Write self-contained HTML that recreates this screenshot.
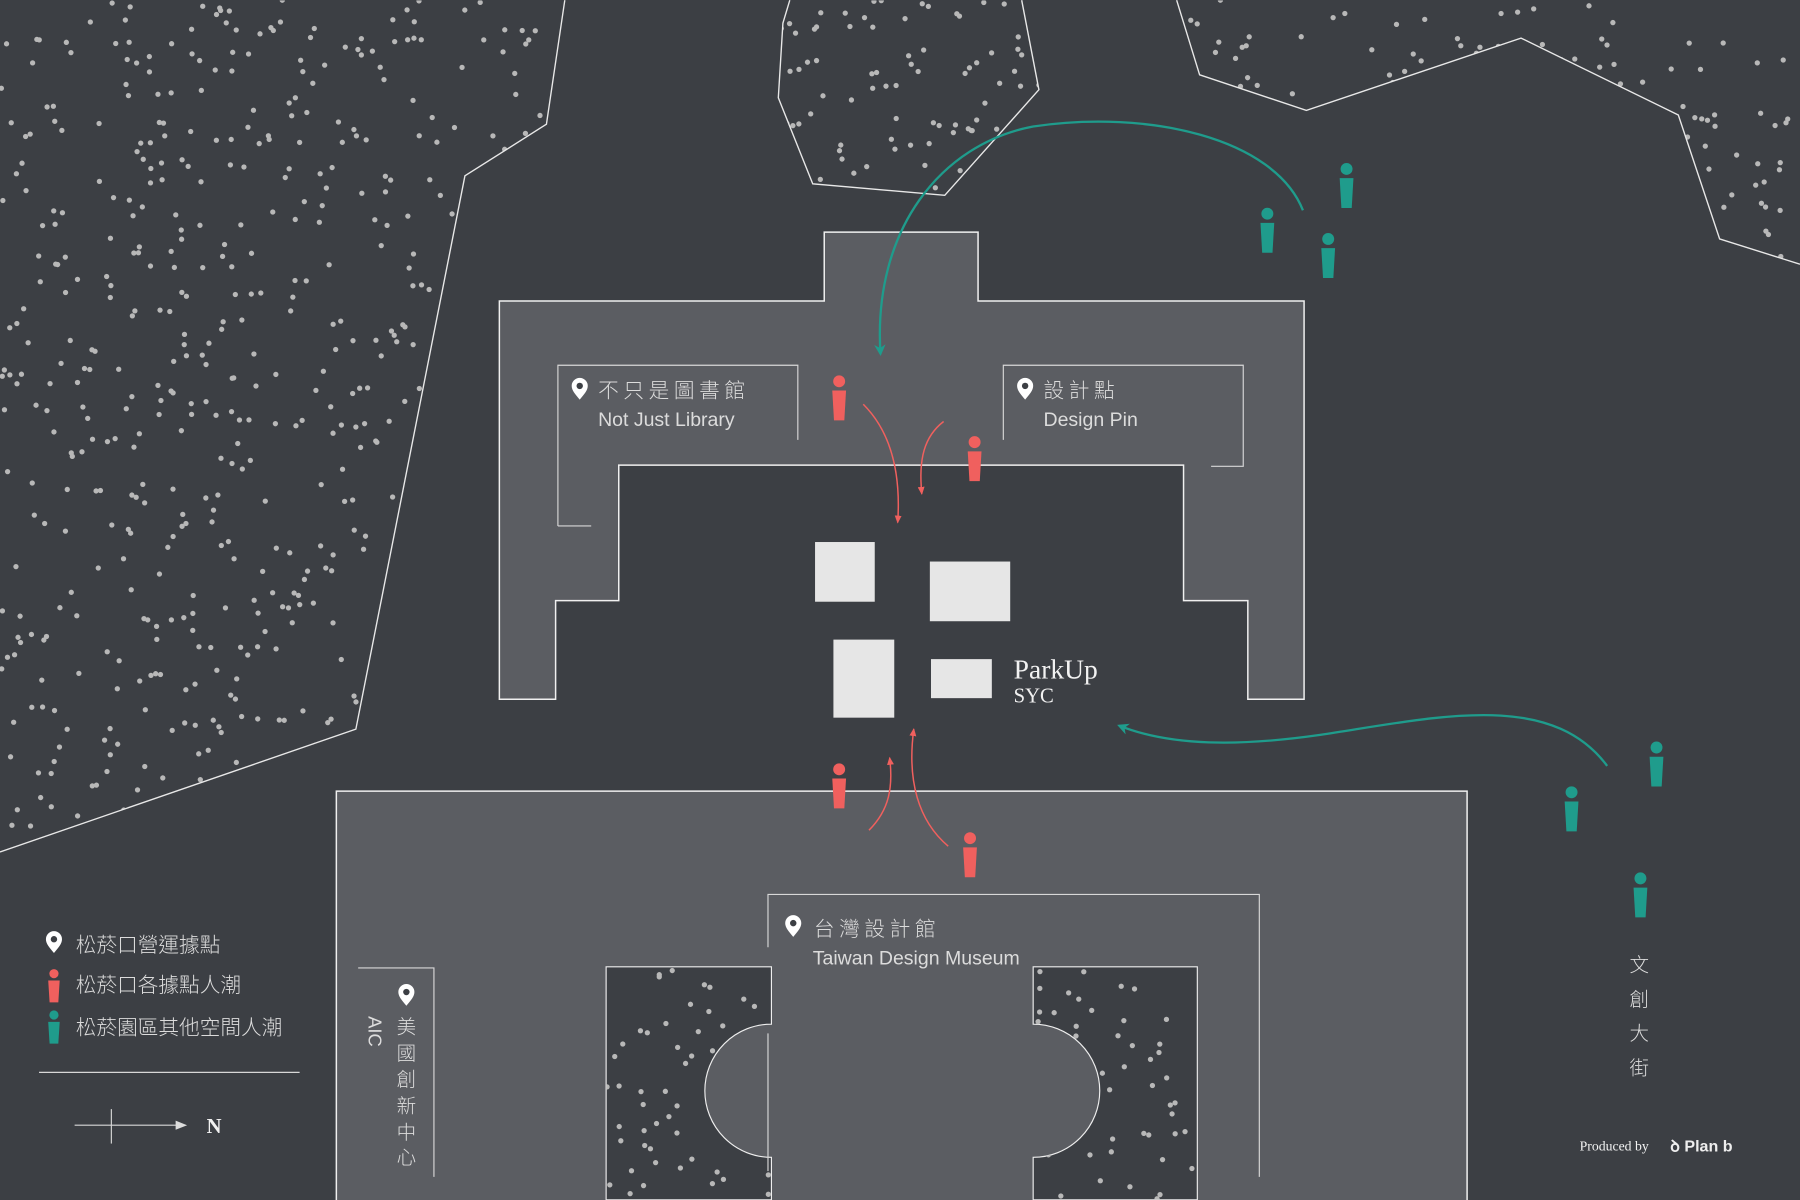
<!DOCTYPE html>
<html><head><meta charset="utf-8"><style>
html,body{margin:0;padding:0;background:#3c3f44;width:1800px;height:1200px;overflow:hidden}
svg{display:block}
.t{font-family:"Liberation Sans","Noto Sans CJK TC",sans-serif;fill:#dcdcdc;font-weight:300}
.s{font-family:"Liberation Serif",serif;fill:#f2f2f2}
</style></head><body>
<svg width="1800" height="1200" viewBox="0 0 1568 1045" xmlns="http://www.w3.org/2000/svg">
<defs>
<clipPath id="c1"><polygon points="0,0 492,0 476,108 405,153 310,635 0,742"/></clipPath>
<clipPath id="c2"><polygon points="688,0 890,0 905,78 823,170 708,160 678,85 682,20"/></clipPath>
<clipPath id="c3"><polygon points="1025,0 1568,0 1568,230 1498,208 1462,100 1325,33 1138,96 1045,65"/></clipPath>
<clipPath id="c4"><path d="M528,842 H672 V892 A58,58 0 0 0 672,1008 V1045 H528 Z"/></clipPath>
<clipPath id="c5"><path d="M900,842 H1043 V1045 H900 V1008 A58,58 0 0 0 900,892 Z"/></clipPath>
<g id="pin"><path d="M0,8 C-4,3 -7,0 -7,-4 A7,7 0 1 1 7,-4 C7,0 4,3 0,8 Z" fill="#fff"/><circle cx="0" cy="-4" r="2.8" fill="#3c3f44"/></g>
<g id="pr"><circle cx="0" cy="0" r="5.2" fill="#f0605e"/><path d="M-6,8 H6 L4.5,34 H-4.5 Z" fill="#f0605e"/></g>
<g id="pt"><circle cx="0" cy="0" r="5.2" fill="#1f9c8c"/><path d="M-6,8 H6 L4.5,34 H-4.5 Z" fill="#1f9c8c"/></g>
<g id="prs"><circle cx="0" cy="0" r="4" fill="#f0605e"/><path d="M-5,6 H5 L3.8,25 H-3.8 Z" fill="#f0605e"/></g>
<g id="pts"><circle cx="0" cy="0" r="4" fill="#1f9c8c"/><path d="M-5,6 H5 L3.8,25 H-3.8 Z" fill="#1f9c8c"/></g>
<marker id="at" markerWidth="10" markerHeight="10" refX="8" refY="5" orient="auto" markerUnits="userSpaceOnUse"><path d="M0,0 L10,5 L0,10 L3,5 Z" fill="#1f9c8c"/></marker>
<marker id="ar" markerWidth="8" markerHeight="8" refX="6" refY="4" orient="auto" markerUnits="userSpaceOnUse"><path d="M0,1 L7,4 L0,7 Z" fill="#f0605e"/></marker>
</defs>
<rect width="1568" height="1045" fill="#3c3f44"/>
<g id="dots" fill="#b8b8b8"></g>
<g fill="none" stroke="#e8e8e8" stroke-width="1.2">
<polyline points="492,0 476,108 405,153 310,635 0,742"/>
<polyline points="688,0 682,20 678,85 708,160 823,170 905,78 890,0"/>
<polyline points="1025,0 1045,65 1138,96 1325,33 1462,100 1498,208 1568,230"/>
</g>
<polygon points="435,262 718,262 718,202 852,202 852,262 1136,262 1136,609 1087,609 1087,523 1031,523 1031,405 539,405 539,523 484,523 484,609 435,609" fill="#5b5d62" stroke="#f0f0f0" stroke-width="1.3"/>
<rect x="293" y="689" width="985" height="370" fill="#5b5d62" stroke="#f0f0f0" stroke-width="1.3"/>
<path d="M528,842 H672 V892 A58,58 0 0 0 672,1008 V1045 H528 Z" fill="#3c3f44" stroke="#eee" stroke-width="1"/>
<path d="M900,842 H1043 V1045 H900 V1008 A58,58 0 0 0 900,892 Z" fill="#3c3f44" stroke="#eee" stroke-width="1"/>
<g id="dots2" fill="#b8b8b8"></g>
<g fill="none" stroke="#d8d8d8" stroke-width="1">
<polyline points="486,458 486,318 695,318 695,383"/><line x1="486" y1="458" x2="515" y2="458"/>
<polyline points="874,383 874,318 1083,318 1083,406 1055,406"/>
<polyline points="669,825 669,779 1097,779 1097,1025"/><line x1="669" y1="900" x2="669" y2="1020"/>
<polyline points="312,843 378,843 378,1025"/>
<line x1="34" y1="934" x2="261" y2="934"/>
<line x1="65" y1="980" x2="155" y2="980"/><line x1="97" y1="966" x2="97" y2="996"/>
</g>
<path d="M153,976 L163,980 L153,984 Z" fill="#ddd"/>
<g fill="#e6e6e6"><rect x="710" y="472" width="52" height="52"/><rect x="810" y="489" width="70" height="52"/><rect x="726" y="557" width="53" height="68"/><rect x="811" y="574" width="53" height="34"/></g>
<g fill="none" stroke="#1f9c8c" stroke-width="2">
<path d="M1135,183 C1110,120 1000,95 900,110 C820,125 760,200 767,308" marker-end="url(#at)"/>
<path d="M1400,667 C1350,600 1250,625 1150,640 C1080,650 1020,650 975,632" marker-end="url(#at)"/>
</g>
<g fill="none" stroke="#f0605e" stroke-width="1.3">
<path d="M752,352 C775,375 785,410 782,455" marker-end="url(#ar)"/>
<path d="M822,367 C805,380 800,400 803,430" marker-end="url(#ar)"/>
<path d="M757,723 C775,705 778,685 775,660" marker-end="url(#ar)"/>
<path d="M826,737 C800,715 790,680 796,635" marker-end="url(#ar)"/>
</g>
<use href="#pr" x="731" y="332"/><use href="#pr" x="849" y="385"/><use href="#pr" x="731" y="670"/><use href="#pr" x="845" y="730"/>
<use href="#pt" x="1173" y="147"/><use href="#pt" x="1104" y="186"/><use href="#pt" x="1157" y="208"/><use href="#pt" x="1443" y="651"/><use href="#pt" x="1369" y="690"/><use href="#pt" x="1429" y="765"/>
<use href="#prs" x="47" y="848"/>
<use href="#pts" x="47" y="884"/>
<use href="#pin" x="505" y="340"/><use href="#pin" x="893" y="340"/><use href="#pin" x="691" y="808"/><use href="#pin" x="354" y="868"/><use href="#pin" x="47" y="822"/>
<text class="t" x="521" y="346" font-size="18" letter-spacing="4">不只是圖書館</text>
<text class="t" x="521" y="371" font-size="17">Not Just Library</text>
<text class="t" x="909" y="346" font-size="18" letter-spacing="4">設計點</text>
<text class="t" x="909" y="371" font-size="17">Design Pin</text>
<text class="t" x="709" y="815" font-size="18" letter-spacing="4">台灣設計館</text>
<text class="t" x="708" y="840" font-size="17">Taiwan Design Museum</text>
<g class="t" font-size="17" text-anchor="middle"><text x="354" y="900">美</text><text x="354" y="923">國</text><text x="354" y="946">創</text><text x="354" y="969">新</text><text x="354" y="992">中</text><text x="354" y="1014">心</text></g>
<text class="t" font-size="16" transform="translate(321,885) rotate(90)">AIC</text>
<g class="t" font-size="17" text-anchor="middle"><text x="1428" y="846">文</text><text x="1428" y="876">創</text><text x="1428" y="906">大</text><text x="1428" y="936">街</text></g>
<text class="t" x="66" y="829" font-size="18">松菸口營運據點</text>
<text class="t" x="66" y="864" font-size="18">松菸口各據點人潮</text>
<text class="t" x="66" y="901" font-size="18">松菸園區其他空間人潮</text>
<text class="s" x="180" y="987" font-size="18" font-weight="bold">N</text>
<text class="s" x="883" y="591" font-size="24">ParkUp</text>
<text class="s" x="883" y="612" font-size="18">SYC</text>
<text class="s" x="1376" y="1002" font-size="12">Produced by</text>
<text x="1455" y="1003" font-size="14" font-weight="bold" font-family="Liberation Sans,sans-serif" fill="#eee">ꝺ Plan b</text>
</svg>
<script>
(function(){
var s=12345;function r(){s=(s*16807)%2147483647;return s/2147483647;}
var NS="http://www.w3.org/2000/svg";
function fill(gid,clip,x0,y0,x1,y1,n){var g=document.getElementById(gid);var gg=document.createElementNS(NS,"g");gg.setAttribute("clip-path","url(#"+clip+")");g.appendChild(gg);
for(var i=0;i<n;i++){var c=document.createElementNS(NS,"circle");c.setAttribute("cx",(x0+r()*(x1-x0)).toFixed(1));c.setAttribute("cy",(y0+r()*(y1-y0)).toFixed(1));c.setAttribute("r","2.3");gg.appendChild(c);}}
fill("dots","c1",0,0,492,742,650);
fill("dots","c2",678,0,905,170,85);
fill("dots","c3",1025,0,1568,230,170);
fill("dots2","c4",528,842,672,1045,50);
fill("dots2","c5",900,842,1043,1045,50);
})();
</script>
</body></html>
